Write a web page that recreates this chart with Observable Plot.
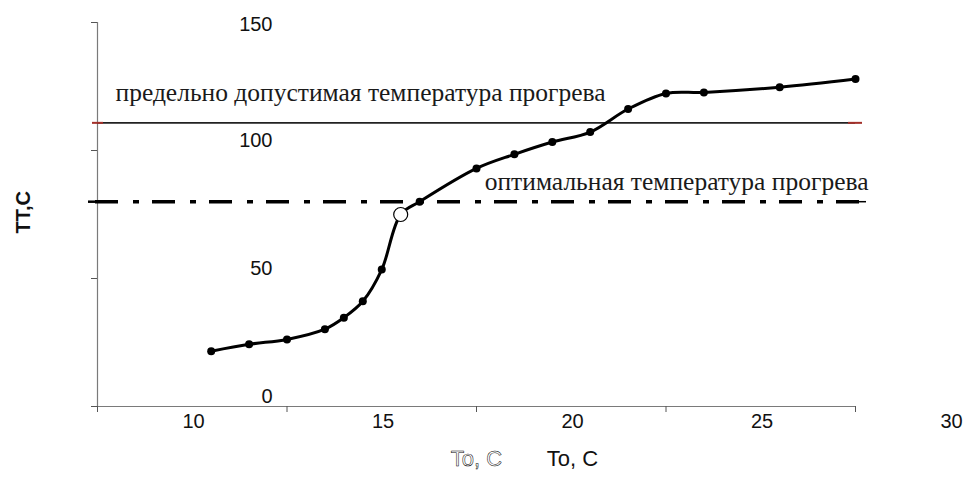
<!DOCTYPE html>
<html>
<head>
<meta charset="utf-8">
<script src="https://cdn.jsdelivr.net/npm/d3@7"></script>
<script src="https://cdn.jsdelivr.net/npm/@observablehq/plot@0.6"></script>
<style>
  html, body { margin: 0; padding: 0; background: #fff; }
  #chart svg { display: block; }
</style>
</head>
<body>
<div id="chart"></div>
<script>
// Data
const temps = [13, 14, 15, 16, 16.5, 17, 17.5, 18, 18.5, 20, 21, 22, 23, 24, 25, 26, 28, 30];
const heat  = [21.6, 24.3, 26.2, 30.2, 34.7, 41.1, 53.5, 75.0, 80.0, 93.0, 98.5, 103.3, 107.2, 116.2, 122.3, 122.7, 124.7, 127.9];
const openPointTemp = [18];
const limitValue = 110.8;
const optimalValue = 80;
const limitLabel = "предельно допустимая температура прогрева";
const optimalLabel = "оптимальная температура прогрева";
const xTicks = [10, 15, 20, 25, 30];
const yTicks = [0, 50, 100, 150];
const xDomain = [10, 30];
const yDomain = [0, 150];
const xLabel = "To, C";
const yLabel = "ТТ,С";

const points = temps.map((t, i) => ({t, v: heat[i]}));
const openPoints = points.filter(d => openPointTemp.includes(d.t));
const filledPoints = points.filter(d => !openPointTemp.includes(d.t));

const sans = "'Liberation Sans', Arial, sans-serif";
const serif = "'Liberation Serif', 'Times New Roman', serif";

const chart = Plot.plot({
  width: 966,
  height: 477,
  marginLeft: 97,
  marginRight: 111,
  marginTop: 22,
  marginBottom: 71,
  style: {fontFamily: sans, background: "#fff", overflow: "visible"},
  x: {domain: xDomain, axis: null},
  y: {domain: yDomain, axis: null},
  marks: [
    // axis lines
    Plot.ruleX([xDomain[0]], {y1: yDomain[0], y2: yDomain[1], stroke: "#7a7a7a", strokeWidth: 1.2}),
    Plot.ruleY([yDomain[0]], {x1: xDomain[0], x2: xDomain[1], stroke: "#7a7a7a", strokeWidth: 1.2}),
    // tick marks
    Plot.ruleX(xTicks, {y1: yDomain[0], y2: yDomain[0], insetBottom: -6, stroke: "#555", strokeWidth: 1}),
    Plot.ruleY(yTicks, {x1: xDomain[0], x2: xDomain[0], insetLeft: -6, stroke: "#555", strokeWidth: 1}),
    // tick labels (shifted as in the original)
    Plot.text(xTicks, {x: d => d, frameAnchor: "bottom", dy: 21, dx: 96, fontSize: 20, fill: "#111"}),
    Plot.text(yTicks.filter(d => d !== 150), {y: d => d, frameAnchor: "left", dx: 175, dy: -10, textAnchor: "end", fontSize: 20, fill: "#111"}),
    Plot.text(yTicks.filter(d => d === 150), {y: d => d, frameAnchor: "left", dx: 175, dy: 2, textAnchor: "end", fontSize: 20, fill: "#111"}),
    // limit line
    Plot.ruleY([limitValue], {x1: xDomain[0], x2: xDomain[1], stroke: "#222", strokeWidth: 1.6}),
    Plot.ruleY([limitValue], {x1: xDomain[0], x2: xDomain[0], insetLeft: -5, insetRight: -6, stroke: "#a3302a", strokeWidth: 2}),
    Plot.ruleY([limitValue], {x1: xDomain[1], x2: xDomain[1], insetLeft: -7, insetRight: -7, stroke: "#a3302a", strokeWidth: 2}),
    // optimal line
    Plot.ruleY([optimalValue], {x1: xDomain[0], x2: xDomain[1], insetLeft: -9, insetRight: -11, stroke: "#000", strokeWidth: 3.5, strokeDasharray: "23,15,6,13", strokeDashoffset: -7}),
    Plot.ruleY([optimalValue], {x1: xDomain[0], x2: xDomain[0], insetLeft: -9, insetRight: -10, stroke: "#000", strokeWidth: 2.5}),
    Plot.ruleY([optimalValue], {x1: xDomain[1], x2: xDomain[1], insetLeft: -10, insetRight: -11, stroke: "#000", strokeWidth: 1.5}),
    // labels
    Plot.text([limitLabel], {x: xDomain[0], y: limitValue, dx: 18, dy: -30, textAnchor: "start", fontFamily: serif, fontSize: 25.5, fill: "#1a1a1a"}),
    Plot.text([optimalLabel], {x: xDomain[1], y: optimalValue, dx: 13, dy: -20, textAnchor: "end", fontFamily: serif, fontSize: 25.5, fill: "#1a1a1a"}),
    // curve
    Plot.line(points, {x: "t", y: "v", curve: "catmull-rom", stroke: "#000", strokeWidth: 3}),
    Plot.dot(filledPoints, {x: "t", y: "v", r: 4, fill: "#000", stroke: "none"}),
    Plot.dot(openPoints, {x: "t", y: "v", r: 7, fill: "#fff", stroke: "#000", strokeWidth: 1.2}),
    // axis titles
    Plot.text([xLabel], {x: 20, frameAnchor: "bottom", dy: 59, fontSize: 22, fill: "#fff", stroke: "#000", strokeWidth: 0.5, paintOrder: "normal"}),
    Plot.text([xLabel], {x: 20, frameAnchor: "bottom", dy: 59, dx: 96, fontSize: 22, fill: "#111"}),
    Plot.text([yLabel], {frameAnchor: "left", dx: -74, dy: 19, rotate: -90, fontSize: 20, fontWeight: "bold", fill: "#111"})
  ]
});
document.getElementById("chart").appendChild(chart);
</script>
</body>
</html>
